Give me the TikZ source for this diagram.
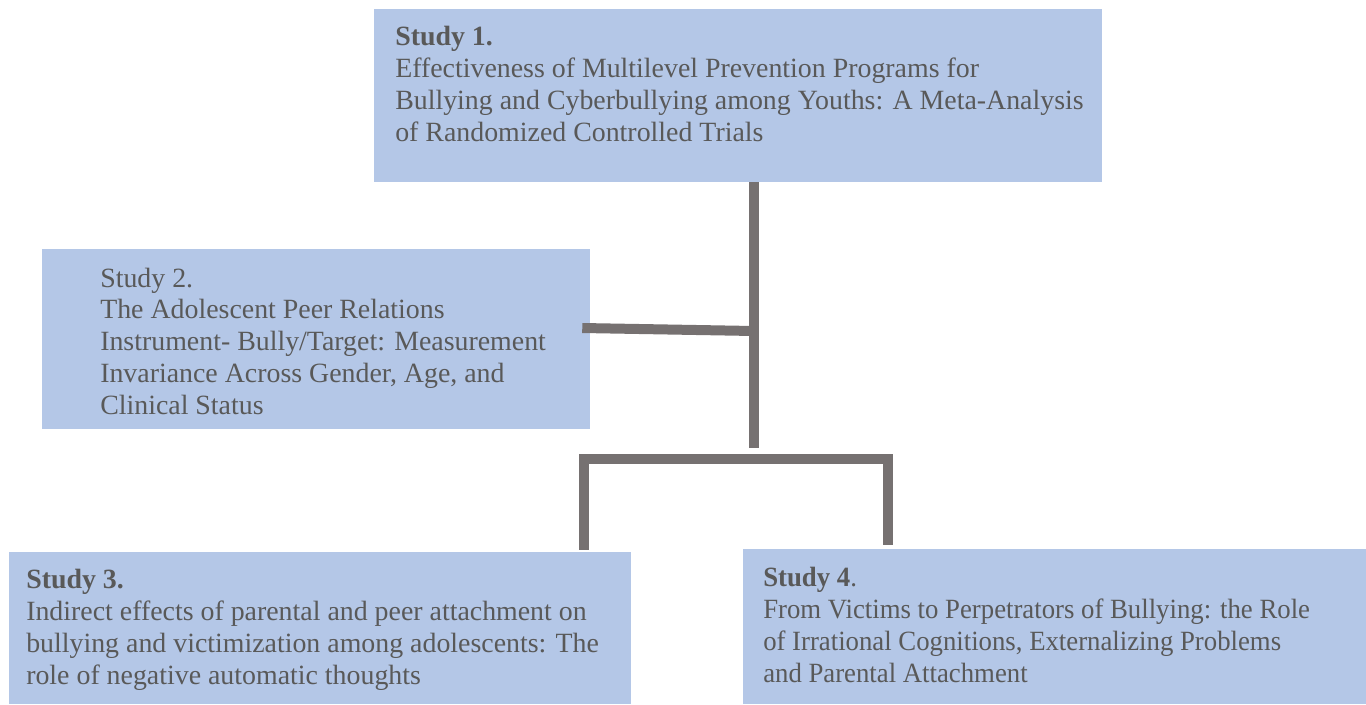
\documentclass[tikz,border=0pt]{standalone}
\usepackage{fontspec}
\setmainfont{Liberation Serif}
\newfontfamily\narrowserif[FakeStretch=0.96]{Liberation Serif}
\usetikzlibrary{positioning}
\definecolor{boxBlue}{HTML}{B4C7E7}
\definecolor{linkGray}{HTML}{767171}
\definecolor{textGray}{HTML}{595959}

\begin{document}
\begin{tikzpicture}
[x=0.75pt,y=-0.75pt,
  boxDecorate/.style={shape=rectangle,fill=boxBlue,inner sep=0pt},%
  textDecorate/.style={anchor=base west,align=left,inner sep=0pt,text=textGray,
    font=\fontsize{20.9}{23.8}\selectfont},%
  lineDecorate/.style={-,line width=7.5pt,draw=linkGray,line join=miter}]
\useasboundingbox (0,0) rectangle (1366,704);
%% boxes
\foreach \nodename/\x/\y/\w/\h in {
  s1/738/95.5/728/173, s2/316/339/548/180,
  s3/320/628/622/152, s4/1054.5/626.5/623/155}
{
  \node (\nodename) at (\x,\y) [boxDecorate,minimum width=\w*0.75pt,minimum height=\h*0.75pt] {};
}
%% texts (anchored at the last line)
\node (t1) at (395,141) [textDecorate] {\textbf{Study 1.}\\
  Effectiveness of Multilevel Prevention Programs for\\
  Bullying and Cyberbullying among Youths: A Meta-Analysis\\
  of Randomized Controlled Trials};
\node (t2) at (100,414) [textDecorate] {Study 2.\\
  The Adolescent Peer Relations\\
  Instrument- Bully/Target: Measurement\\
  Invariance Across Gender, Age, and\\
  Clinical Status};
\node (t3) at (26,684) [textDecorate] {\textbf{Study 3.}\\
  Indirect effects of parental and peer attachment on\\
  bullying and victimization among adolescents: The\\
  role of negative automatic thoughts};
\node (t4) at (763,682) [textDecorate,font=\narrowserif\fontsize{20.9}{23.8}\selectfont] {\textbf{Study 4}.\\
  From Victims to Perpetrators of Bullying: the Role\\
  of Irrational Cognitions, Externalizing Problems\\
  and Parental Attachment};
%% junctions
\coordinate (top) at (s1.south -| 754,0);
\coordinate (stub) at ([xshift=-6pt,yshift=8.25pt]s2.east);
\coordinate (j1) at (754,331);
\coordinate (j2) at (754,448);
\coordinate (j3) at (583.5,458.5);
\coordinate (j4) at (888,458.5);
%% lines
\path
\foreach \startnode/\endnode in {top/j2, stub/j1}
{
  (\startnode) edge[lineDecorate] (\endnode)
};
\draw[lineDecorate] ([yshift=1.5pt]s3.north -| j3) -- (j3) -- (j4) -- ([yshift=3pt]s4.north -| j4);
\end{tikzpicture}
\end{document}
